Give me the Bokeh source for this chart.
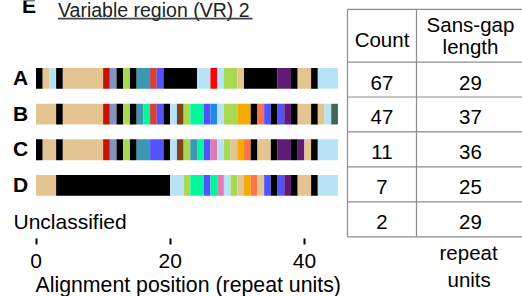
from bokeh.plotting import figure
from bokeh.models import Range1d, FixedTicker, Title, ColumnDataSource
from bokeh.layouts import row
from bokeh.core.properties import value
from bokeh.embed import file_html
from bokeh.resources import INLINE

# ---------------- data ----------------
palette = {
    "K": "#000000", "T": "#E4C592", "L": "#B8E3F7", "R": "#C81200",
    "S": "#8493C0", "G": "#A9D952", "C": "#3A9AB3", "O": "#D0433A",
    "U": "#5252FF", "P": "#611A75", "F": "#FF0000", "M": "#00F79B",
    "D": "#1F88EE", "Y": "#F5AC00", "Q": "#FF7447", "N": "#7E441C",
    "I": "#E07AB2", "X": "#3F6756",
}

row_names = ["A", "B", "C", "D"]
row_A = ["K","T","L","K","T","R","S","K","G","K","C","O","U","K","L","F","L","G","T","K","P","K","T","K","L"]
len_A = [1,1,1,1,6,1,1,1,1,1,2,1,1,5,2,1,1,2,1,5,2,1,2,1,3]
row_B = ["T","K","T","R","S","K","G","K","C","M","O","U","K","L","N","G","M","U","D","L","G","Y","K","Q","U","K","U","P","K","T","K","T","L","X"]
len_B = [3,1,6,1,1,1,1,1,1,1,1,1,1,1,1,1,2,1,1,1,2,2,1,1,1,1,1,1,1,2,1,1,1,1]
row_C = ["K","T","K","T","R","S","K","G","K","C","U","K","L","N","G","C","M","U","I","L","G","T","Y","Q","K","T","K","P","K","P","T","K","L"]
len_C = [1,2,1,6,1,1,1,1,1,2,2,1,1,1,1,1,1,1,1,1,1,1,1,1,1,2,1,2,1,1,1,1,3]
row_D = ["T","K","L","G","M","U","M","I","L","G","T","Y","Q","T","U","K","U","P","K","T","K","L"]
len_D = [3,17,2,1,2,1,1,1,1,1,1,1,1,1,1,1,1,1,1,2,1,3]

table_rows = ["A", "B", "C", "D", "Unclassified"]
counts = [67, 47, 11, 7, 2]
sans_gap = [29, 37, 36, 25, 29]
tick_values = [0, 20, 40]

FONT = value("Liberation Sans")

# ---------------- left figure: bars + axis ----------------
W1, H, FB = 342, 296, 240          # width, height, frame bottom (px)
X0, SX = 35.5, 6.71                 # px of x=0, px per repeat unit
Y0, SY = 78.5, 36.0                 # px of row 0, px per row
def X(px): return (px - X0) / SX
def Y(py): return (py - Y0) / SY

p1 = figure(width=W1, height=H, output_backend="svg", toolbar_location=None,
            x_range=Range1d(X(0), X(W1)), y_range=Range1d(Y(FB), Y(0)),
            y_axis_location=None, min_border_left=0, min_border_right=0,
            min_border_top=0, min_border_bottom=H - FB)
p1.outline_line_color = None
p1.grid.visible = False

lefts, rights, ys, cols = [], [], [], []
for r, (keys, lens) in enumerate([(row_A, len_A), (row_B, len_B), (row_C, len_C), (row_D, len_D)]):
    pos = 0
    for k, w in zip(keys, lens):
        lefts.append(pos); rights.append(pos + w); ys.append(r); cols.append(palette[k])
        pos += w
src = ColumnDataSource(dict(left=lefts, right=rights, y=ys, color=cols))
p1.hbar(y="y", left="left", right="right", height=21 / SY, fill_color="color",
        line_color=None, source=src)

p1.text(x=[X(20)] * 4, y=[r - 1.0 / SY for r in range(4)], text=row_names, text_font=FONT,
        text_font_size=value("21px"), text_font_style="bold",
        text_align="center", text_baseline="middle", text_color="black")
p1.text(x=[X(13)], y=[4], text=[table_rows[4]], text_font=FONT,
        text_font_size=value("21px"), text_align="left", text_baseline="middle",
        text_color="black")

p1.text(x=[X(21.5)], y=[Y(5)], text=["E"], text_font=FONT, text_font_size=value("21px"),
        text_font_style="bold", text_align="left", text_baseline="middle", text_color="black")
p1.text(x=[X(57.5)], y=[Y(10)], text=["Variable region (VR) 2"], text_font=FONT,
        text_font_size=value("19.5px"), text_align="left", text_baseline="middle",
        text_color="#222222")
p1.segment(x0=[X(57.5)], x1=[X(252)], y0=[Y(18.3)], y1=[Y(18.3)], line_color="#444444",
           line_width=1.6)

ax = p1.xaxis[0]
ax.ticker = FixedTicker(ticks=tick_values)
ax.axis_line_color = None
ax.major_tick_in = 0
ax.major_tick_out = 6
ax.major_tick_line_width = 2
ax.major_tick_line_color = "black"
ax.minor_tick_line_color = None
ax.major_label_text_font = "Liberation Sans"
ax.major_label_text_font_size = "21px"
ax.major_label_text_color = "black"
ax.major_label_standoff = 9

p1.add_layout(Title(text="Alignment position (repeat units)", align="left", offset=35,
                    standoff=0, text_font="Liberation Sans", text_font_size="21.3px",
                    text_font_style="normal", text_color="black"), "below")

# ---------------- right figure: table ----------------
W2 = 522 - W1
TY0, TSY = 79.7, 35.25
def TY(py): return (py - TY0) / TSY

p2 = figure(width=W2, height=H, output_backend="svg", toolbar_location=None,
            x_range=Range1d(W1, 522), y_range=Range1d(TY(FB), TY(0)),
            x_axis_location=None, y_axis_location=None,
            min_border_left=0, min_border_right=0, min_border_top=0,
            min_border_bottom=H - FB)
p2.outline_line_color = None
p2.grid.visible = False

tl, tm, tr = 347, 416, 530
n = len(counts)
h_y = [TY(9)] + [r - 0.5 for r in range(n)] + [n - 0.5]
p2.segment(x0=[tl] * len(h_y), x1=[tr] * len(h_y), y0=h_y, y1=h_y,
           line_color="#8c8c8c", line_width=1.2)
p2.segment(x0=[tl, tm], x1=[tl, tm], y0=[TY(9)] * 2, y1=[n - 0.5] * 2,
           line_color="#8c8c8c", line_width=1.2)

c1, c2 = 381.5, 470
p2.text(x=[c1, c2, c2], y=[TY(39.2), TY(24.5), TY(46)], text=["Count", "Sans-gap", "length"],
        text_font=FONT, text_font_size=value("20.5px"), text_align="center",
        text_baseline="middle", text_color="black")
off = 3.0 / TSY
p2.text(x=[c1] * n, y=[r + off for r in range(n)], text=[str(c) for c in counts],
        text_font=FONT, text_font_size=value("20.5px"), text_align="center",
        text_baseline="middle", text_color="black")
p2.text(x=[c2] * n, y=[r + off for r in range(n)], text=[str(s) for s in sans_gap],
        text_font=FONT, text_font_size=value("20.5px"), text_align="center",
        text_baseline="middle", text_color="black")

p2.add_layout(Title(text="repeat", align="left", offset=97, standoff=1,
                    text_font="Liberation Sans", text_font_size="20.5px",
                    text_font_style="normal", text_color="black"), "below")
p2.add_layout(Title(text="units", align="left", offset=105, standoff=3,
                    text_font="Liberation Sans", text_font_size="20.5px",
                    text_font_style="normal", text_color="black"), "below")

layout = row(p1, p2, spacing=0)
open("out.html", "w").write(file_html(layout, INLINE))
